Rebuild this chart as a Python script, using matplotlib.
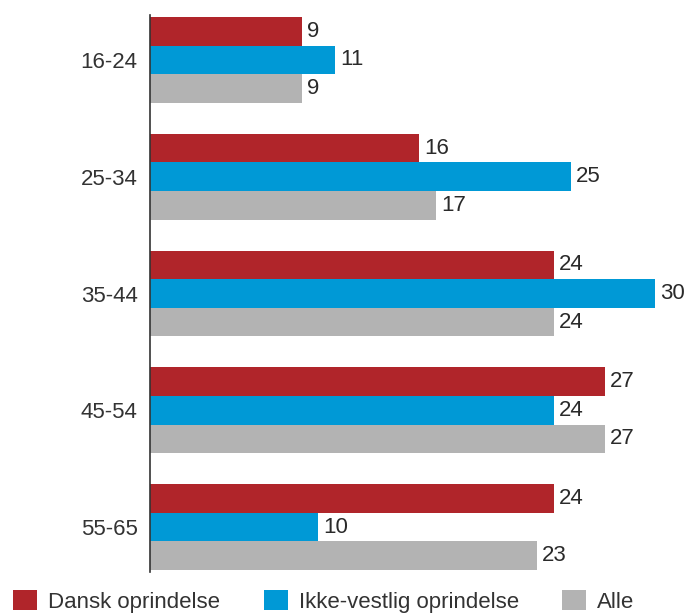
import matplotlib
matplotlib.use("Agg")
import matplotlib.pyplot as plt
from matplotlib.patches import Patch
import numpy as np

categories = ["16-24", "25-34", "35-44", "45-54", "55-65"]
series_names = ["Dansk oprindelse", "Ikke-vestlig oprindelse", "Alle"]
dansk = [9, 16, 24, 27, 24]
ikke_vestlig = [11, 25, 30, 24, 10]
alle = [9, 17, 24, 27, 23]
colors = ["#B0252A", "#0099D6", "#B3B3B3"]

plt.rcParams['font.family'] = ['Liberation Sans', 'DejaVu Sans']

fig = plt.figure(figsize=(6.88, 6.14), dpi=100)
ax = fig.add_axes([150/688, 1-572/614, 1-150/688, (572-15)/614])

y = np.arange(len(categories))
h = 0.245
for i, (vals, col) in enumerate(zip([dansk, ikke_vestlig, alle], colors)):
    pos = y + (i - 1) * h
    ax.barh(pos, vals, height=h, color=col, edgecolor='none')
    for p, v in zip(pos, vals):
        ax.text(v + 0.3, p, str(v), va='center', ha='left', fontsize=16, color='#2a2a2a')

ax.set_xlim(0, 31.95)
ax.set_ylim(len(categories) - 1 + 0.385, -0.385)
ax.set_yticks(y)
ax.set_yticklabels(categories, fontsize=16, color='#333333')
ax.tick_params(axis='y', length=0, pad=9)
ax.set_xticks([])
for s in ['top', 'right', 'bottom']:
    ax.spines[s].set_visible(False)
ax.spines['left'].set_color('#333333')
ax.spines['left'].set_linewidth(1.2)

handles = [Patch(facecolor=c, edgecolor='none') for c in colors]
fig.legend(handles, series_names, loc='lower left', bbox_to_anchor=(12/688, 0.0),
           ncol=3, frameon=False, fontsize=16, handlelength=1.08, handleheight=1.0,
           handletextpad=0.5, columnspacing=1.95, borderaxespad=0, borderpad=0.05,
           labelcolor='#333333')

fig.savefig("out.png", dpi=100)
